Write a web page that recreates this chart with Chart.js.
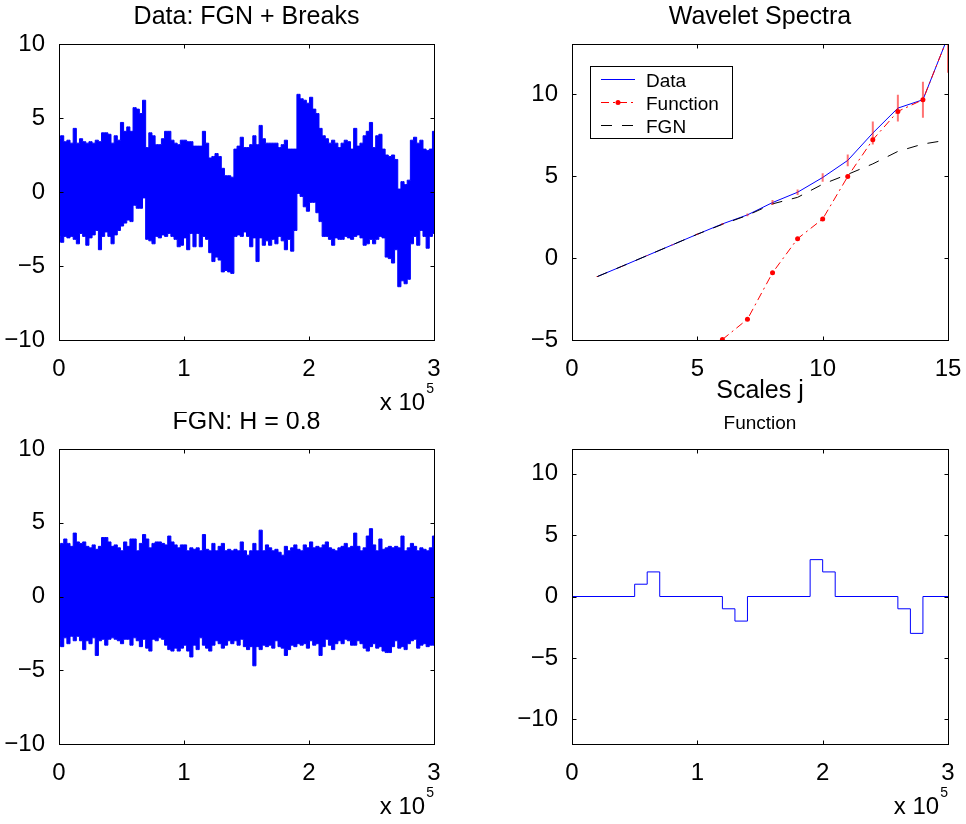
<!DOCTYPE html>
<html>
<head>
<meta charset="utf-8">
<title>FGN + Breaks</title>
<script src="https://cdn.jsdelivr.net/npm/chart.js@4.4.1/dist/chart.umd.min.js"></script>
<style>
  html, body { margin: 0; padding: 0; background: #fff; }
  body { position: relative; width: 966px; height: 824px; overflow: hidden; }
  .cell { position: absolute; width: 483px; height: 412px; }
  .cell canvas { display: block; }
</style>
</head>
<body>
<div class="cell" style="left:0;top:0"><canvas id="signal" width="483" height="412"></canvas></div>
<div class="cell" style="left:483px;top:0"><canvas id="spectra" width="483" height="412"></canvas></div>
<div class="cell" style="left:0;top:412px"><canvas id="fgn" width="483" height="412"></canvas></div>
<div class="cell" style="left:483px;top:412px"><canvas id="func" width="483" height="412"></canvas></div>

<script>
// ---- series length ----
const N_SAMPLES = 300000;

// envelope (max / min per bin of 2500 samples) of the signal with breaks
const dataHi = [
  3.6, 3.8, 3.4, 3.5, 3.3, 4.3, 3.3, 3.6, 3.4, 3.3,
  3.4, 3.3, 3.5, 3.4, 4.0, 4.0, 3.9, 3.3, 3.8, 3.5,
  4.7, 4.1, 4.4, 4.1, 5.7, 5.6, 5.3, 6.2, 3.0, 4.0,
  3.8, 3.2, 3.2, 3.6, 4.1, 4.1, 3.5, 3.3, 3.2, 3.5,
  3.5, 3.4, 3.4, 3.1, 3.1, 3.1, 4.1, 3.3, 2.3, 2.4,
  2.6, 2.4, 1.6, 1.1, 1.1, 1.0, 2.9, 3.1, 3.7, 3.0,
  3.0, 3.2, 3.8, 3.2, 4.5, 3.6, 3.3, 3.3, 3.3, 3.3,
  3.0, 3.2, 3.5, 2.9, 2.9, 2.9, 6.6, 6.3, 6.2, 6.0,
  6.4, 5.6, 5.3, 4.3, 3.8, 3.6, 3.3, 3.5, 3.3, 3.0,
  3.3, 3.5, 3.4, 2.9, 4.3, 3.1, 3.3, 3.8, 4.1, 4.7,
  3.0, 3.8, 3.9, 2.9, 2.5, 2.4, 2.5, 2.2, 0.2, 0.7,
  0.5, 0.8, 3.5, 3.7, 3.3, 3.5, 2.9, 2.8, 2.9, 4.1
];
const dataLo = [
  -3.0, -3.4, -3.0, -3.1, -3.0, -3.2, -3.5, -2.8, -3.0, -3.6,
  -3.1, -2.9, -2.6, -3.9, -3.0, -2.7, -3.0, -3.5, -2.9, -2.6,
  -2.3, -2.1, -1.9, -2.0, -0.9, -1.1, -1.1, -0.4, -3.2, -3.3,
  -3.5, -3.0, -3.1, -2.9, -3.0, -2.8, -3.0, -3.2, -3.7, -3.6,
  -3.1, -3.9, -2.8, -3.7, -2.8, -3.7, -3.0, -3.2, -4.1, -4.7,
  -4.4, -4.6, -5.4, -5.3, -5.4, -5.5, -3.0, -2.9, -3.0, -2.7,
  -3.0, -3.7, -3.1, -4.7, -3.1, -3.6, -3.3, -3.6, -3.2, -3.5,
  -3.0, -3.3, -3.9, -3.2, -4.0, -2.6, -0.1, -0.3, -1.0, -1.3,
  -0.7, -0.7, -1.4, -2.0, -3.0, -3.0, -3.2, -3.6, -3.1, -3.2,
  -3.2, -3.0, -3.1, -3.2, -3.0, -2.9, -3.1, -3.6, -3.5, -3.2,
  -3.5, -3.2, -3.0, -3.1, -4.4, -4.5, -4.8, -3.9, -6.4, -6.0,
  -6.2, -5.9, -3.5, -3.0, -3.6, -2.6, -3.0, -3.8, -3.0, -2.8
];

// envelope of the plain FGN, H = 0.8
const fgnHi = [
  3.5, 3.6, 3.9, 3.6, 3.4, 4.3, 3.7, 3.6, 3.7, 3.4,
  3.3, 3.5, 3.2, 3.4, 4.0, 4.0, 3.7, 3.4, 3.5, 3.3,
  3.1, 3.7, 3.4, 3.9, 3.9, 3.1, 3.6, 4.2, 3.9, 3.3,
  3.6, 3.7, 3.7, 3.6, 3.5, 4.1, 3.7, 3.5, 3.3, 3.5,
  3.5, 3.1, 3.3, 3.2, 3.3, 3.1, 4.2, 3.2, 3.1, 3.6,
  3.1, 3.4, 3.6, 3.1, 3.2, 3.1, 3.2, 3.1, 3.7, 3.1,
  2.8, 3.1, 3.6, 3.1, 4.5, 3.1, 3.5, 3.3, 3.1, 3.2,
  3.0, 2.8, 3.4, 3.1, 3.3, 3.5, 3.2, 3.1, 3.5, 3.3,
  3.7, 3.3, 3.4, 3.3, 3.5, 3.7, 3.3, 3.2, 3.1, 3.3,
  3.4, 3.6, 3.3, 3.4, 4.3, 3.4, 3.1, 3.3, 4.1, 4.6,
  3.5, 3.1, 3.9, 3.2, 3.3, 3.4, 3.3, 3.4, 3.3, 4.1,
  3.1, 3.3, 3.6, 3.4, 3.1, 3.3, 3.2, 3.1, 3.3, 4.1
];
const fgnLo = [
  -3.0, -3.4, -2.8, -3.2, -2.7, -3.0, -2.7, -3.0, -3.6, -3.0,
  -3.2, -2.8, -4.0, -3.0, -2.9, -3.3, -2.9, -2.8, -2.9, -3.0,
  -3.2, -2.9, -2.9, -3.3, -2.8, -3.0, -3.4, -2.9, -3.5, -3.7,
  -2.9, -3.0, -2.8, -2.9, -3.3, -3.6, -3.7, -3.5, -3.7, -3.5,
  -3.3, -3.7, -4.1, -3.3, -3.6, -2.8, -3.3, -3.5, -3.7, -3.3,
  -3.0, -3.2, -3.5, -3.3, -3.0, -3.2, -3.0, -3.3, -2.9, -3.4,
  -3.6, -3.4, -4.7, -3.4, -3.6, -3.3, -3.4, -3.3, -3.5, -3.0,
  -3.4, -3.5, -4.0, -3.6, -3.3, -3.4, -3.2, -3.3, -3.2, -3.5,
  -3.0, -3.3, -3.2, -4.0, -3.4, -2.9, -3.3, -3.6, -3.2, -3.0,
  -3.2, -2.9, -3.0, -3.3, -3.3, -3.0, -3.2, -3.5, -3.7, -3.4,
  -3.2, -3.5, -3.4, -3.7, -3.8, -3.8, -3.4, -3.0, -3.5, -3.4,
  -3.6, -3.2, -3.0, -2.9, -3.5, -3.3, -3.2, -3.4, -3.3, -3.3
];

// wavelet spectra, per scale j
const scalesJ   = [1, 2, 3, 4, 5, 6, 7, 8, 9, 10, 11, 12, 13, 14, 15];
const specData  = [-1.14, -0.5, 0.15, 0.8, 1.45, 2.08, 2.63, 3.38, 4.01, 4.91, 5.95, 7.62, 9.14, 9.65, 13.5];
const specFunc  = [null, null, null, null, null, -4.97, -3.73, -0.9, 1.18, 2.38, 4.97, 7.21, 8.94, 9.65, 13.5];
const specFgn   = [-1.14, -0.5, 0.15, 0.8, 1.45, 2.05, 2.6, 3.3, 3.7, 4.5, 5.1, 5.74, 6.5, 6.95, 7.2];
const specConf  = [0.02, 0.02, 0.03, 0.04, 0.05, 0.05, 0.08, 0.15, 0.17, 0.26, 0.36, 0.7, 0.82, 1.1, 2.2];

// piecewise constant break function
const breakEdges  = [0, 50000, 60000, 70000, 120000, 130000, 140000, 190000, 200000, 210000, 260000, 270000, 280000, 300000];
const breakLevels = [0, 1, 2, 0, -1, -2, 0, 3, 2, 0, -1, -3, 0];

// tick values
const sampleTicks  = [0, 100000, 200000, 300000];
const signalTicks  = [-10, -5, 0, 5, 10];
const funcTicks    = [-10, -5, 0, 5, 10];
const scaleTicks   = [0, 5, 10, 15];
const spectraTicks = [-5, 0, 5, 10];

const FONT = "'Liberation Sans', Arial, Helvetica, sans-serif";
const BLUE = 'rgb(0,0,255)';
const RED = 'rgb(255,0,0)';

Chart.defaults.font.family = FONT;
Chart.defaults.color = '#000';
Chart.defaults.animation = false;
Chart.defaults.plugins.legend.display = false;
Chart.defaults.plugins.tooltip.enabled = false;

const minusFmt = v => (v < 0 ? '\u2212' + Math.abs(v) : String(v));
const e5Fmt = v => String(v / 1e5);

function xAxis(min, max, ticks, fmt, height) {
  return {
    type: 'linear', min, max,
    grid: { display: false }, border: { display: false },
    ticks: { font: { size: 24 }, padding: 7, callback: fmt, autoSkip: false, maxRotation: 0 },
    afterBuildTicks: s => { s.ticks = ticks.map(v => ({ value: v })); },
    afterFit: s => { s.height = height; s.paddingLeft = 0; s.paddingRight = 0; }
  };
}
function yAxis(min, max, ticks, width) {
  return {
    type: 'linear', min, max,
    grid: { display: false }, border: { display: false },
    ticks: { font: { size: 24 }, padding: 6, callback: minusFmt, autoSkip: false },
    afterBuildTicks: s => { s.ticks = ticks.map(v => ({ value: v })); },
    afterFit: s => { s.width = width; s.paddingTop = 0; s.paddingBottom = 0; }
  };
}

// box around the axes, inward ticks on all four sides, title and axis texts
const matlabFrame = {
  id: 'matlabFrame',
  afterDraw(chart, args, o) {
    const ctx = chart.ctx;
    const a = chart.chartArea;
    const xs = chart.scales.x, ys = chart.scales.y;
    const L = Math.round(a.left) + 0.5, R = Math.round(a.right) + 0.5;
    const T = Math.round(a.top) + 0.5, B = Math.round(a.bottom) + 0.5;
    const len = 4;
    ctx.save();
    ctx.setLineDash([]);
    ctx.globalAlpha = 1;
    ctx.strokeStyle = '#000000';
    ctx.lineWidth = 1;
    ctx.strokeRect(L, T, R - L, B - T);
    for (const t of xs.ticks) {
      const px = Math.round(xs.getPixelForValue(t.value)) + 0.5;
      ctx.beginPath();
      ctx.moveTo(px, B); ctx.lineTo(px, B - len);
      ctx.moveTo(px, T); ctx.lineTo(px, T + len);
      ctx.stroke();
    }
    for (const t of ys.ticks) {
      const py = Math.round(ys.getPixelForValue(t.value)) + 0.5;
      ctx.beginPath();
      ctx.moveTo(L, py); ctx.lineTo(L + len, py);
      ctx.moveTo(R, py); ctx.lineTo(R - len, py);
      ctx.stroke();
    }

    ctx.fillStyle = '#000';
    ctx.textBaseline = 'alphabetic';
    const cx = (a.left + a.right) / 2;
    if (o.title) {
      ctx.textAlign = 'center';
      ctx.font = `${o.titleSize || 25}px ${FONT}`;
      ctx.fillText(o.title, cx, a.top - 20);
    }
    if (o.xlabel) {
      ctx.textAlign = 'center';
      ctx.font = `25px ${FONT}`;
      ctx.fillText(o.xlabel, cx, a.bottom + 58);
    }
    if (o.exponent) {
      ctx.textAlign = 'right';
      ctx.font = `14px ${FONT}`;
      const w = ctx.measureText(o.exponent).width;
      ctx.fillText(o.exponent, a.right, a.bottom + 53);
      ctx.font = `24px ${FONT}`;
      ctx.fillText('x 10', a.right - w - 1, a.bottom + 70);
    }
    ctx.restore();
  }
};

// boxed legend inside the axes, drawn from the datasets' own styles
const boxLegend = {
  id: 'boxLegend',
  afterDraw(chart, args, o) {
    const { ctx, chartArea: a } = chart;
    const x0 = Math.round(a.left + o.left), y0 = Math.round(a.top + o.top);
    ctx.save();
    ctx.fillStyle = '#fff';
    ctx.fillRect(x0, y0, o.width, o.height);
    ctx.strokeStyle = '#000';
    ctx.lineWidth = 1;
    ctx.strokeRect(x0 + 0.5, y0 + 0.5, o.width, o.height);
    ctx.font = `${o.fontSize}px ${FONT}`;
    ctx.textAlign = 'left';
    ctx.textBaseline = 'alphabetic';
    chart.data.datasets.filter(d => d.inLegend).forEach((d, i) => {
      const ry = y0 + o.firstRow + i * o.rowGap + 0.5;
      ctx.save();
      ctx.strokeStyle = d.borderColor;
      ctx.lineWidth = d.borderWidth;
      ctx.setLineDash(d.borderDash || []);
      ctx.beginPath();
      ctx.moveTo(x0 + o.sampleFrom, ry);
      ctx.lineTo(x0 + o.sampleTo, ry);
      ctx.stroke();
      if (d.pointRadius) {
        ctx.fillStyle = d.pointBackgroundColor;
        ctx.beginPath();
        ctx.arc(x0 + (o.sampleFrom + o.sampleTo) / 2, ry, d.pointRadius, 0, Math.PI * 2);
        ctx.fill();
      }
      ctx.restore();
      ctx.fillStyle = '#000';
      ctx.fillText(d.label, x0 + o.textAt, ry + 7);
    });
    ctx.restore();
  }
};

// envelope bins spread over the sample range
function envelope(arr) {
  const step = N_SAMPLES / (arr.length - 1);
  return arr.map((v, k) => ({ x: k * step, y: v }));
}

function noiseChart(id, hi, lo, title, top, xHeight) {
  return new Chart(document.getElementById(id), {
    type: 'line',
    data: {
      datasets: [
        { data: envelope(hi), borderColor: BLUE, backgroundColor: BLUE, borderWidth: 1,
          pointRadius: 0, fill: '+1', stepped: 'middle', clip: 0 },
        { data: envelope(lo), borderColor: BLUE, backgroundColor: BLUE, borderWidth: 1,
          pointRadius: 0, fill: false, stepped: 'middle', clip: 0 }
      ]
    },
    options: {
      responsive: false,
      layout: { padding: { left: 0, right: 49, top, bottom: 0 } },
      scales: {
        x: xAxis(0, N_SAMPLES, sampleTicks, e5Fmt, xHeight),
        y: yAxis(-10, 10, signalTicks, 59)
      },
      plugins: { matlabFrame: { title, exponent: '5' } }
    },
    plugins: [matlabFrame]
  });
}

noiseChart('signal', dataHi, dataLo, 'Data: FGN + Breaks', 44, 72);
noiseChart('fgn', fgnHi, fgnLo, 'FGN: H = 0.8', 37, 80);

// wavelet spectra with confidence bars around the data estimate
const confBars = scalesJ.flatMap((j, i) => [
  { x: j, y: specData[i] - specConf[i] },
  { x: j, y: specData[i] + specConf[i] },
  { x: j, y: null }
]);

new Chart(document.getElementById('spectra'), {
  type: 'line',
  data: {
    datasets: [
      { label: 'Data', inLegend: true, order: 3,
        data: scalesJ.map((j, i) => ({ x: j, y: specData[i] })),
        borderColor: BLUE, borderWidth: 1, pointRadius: 0, tension: 0, clip: 0 },
      { label: 'Function', inLegend: true, order: 1,
        data: scalesJ.map((j, i) => ({ x: j, y: specFunc[i] })),
        borderColor: RED, borderWidth: 1, borderDash: [8, 4, 2, 4],
        pointRadius: 2.5, pointBackgroundColor: RED, pointBorderWidth: 0, tension: 0, clip: 0 },
      { label: 'FGN', inLegend: true, order: 2,
        data: scalesJ.map((j, i) => ({ x: j, y: specFgn[i] })),
        borderColor: '#000', borderWidth: 1, borderDash: [11, 10], pointRadius: 0, tension: 0, clip: 0 },
      { label: '', order: 0, data: confBars,
        borderColor: 'rgba(255,0,0,0.55)', borderWidth: 2, pointRadius: 0, spanGaps: false, clip: 0 }
    ]
  },
  options: {
    responsive: false,
    layout: { padding: { left: 0, right: 18, top: 44, bottom: 0 } },
    scales: {
      x: xAxis(0, 15, scaleTicks, v => String(v), 72),
      y: yAxis(-5, 13.05, spectraTicks, 89)
    },
    plugins: {
      matlabFrame: { title: 'Wavelet Spectra', xlabel: 'Scales j' },
      boxLegend: { left: 18, top: 22, width: 142, height: 72, firstRow: 13, rowGap: 23,
                   sampleFrom: 11, sampleTo: 45, textAt: 56, fontSize: 19 }
    }
  },
  plugins: [matlabFrame, boxLegend]
});

// the break function itself
new Chart(document.getElementById('func'), {
  type: 'line',
  data: {
    datasets: [
      { data: breakEdges.map((e, i) => ({ x: e, y: breakLevels[Math.min(i, breakLevels.length - 1)] })),
        borderColor: BLUE, borderWidth: 1, pointRadius: 0, stepped: true, clip: 0 }
    ]
  },
  options: {
    responsive: false,
    layout: { padding: { left: 0, right: 18, top: 37, bottom: 0 } },
    scales: {
      x: xAxis(0, N_SAMPLES, sampleTicks, e5Fmt, 80),
      y: yAxis(-12, 12, funcTicks, 89)
    },
    plugins: { matlabFrame: { title: 'Function', titleSize: 19, exponent: '5' } }
  },
  plugins: [matlabFrame]
});
</script>
</body>
</html>
